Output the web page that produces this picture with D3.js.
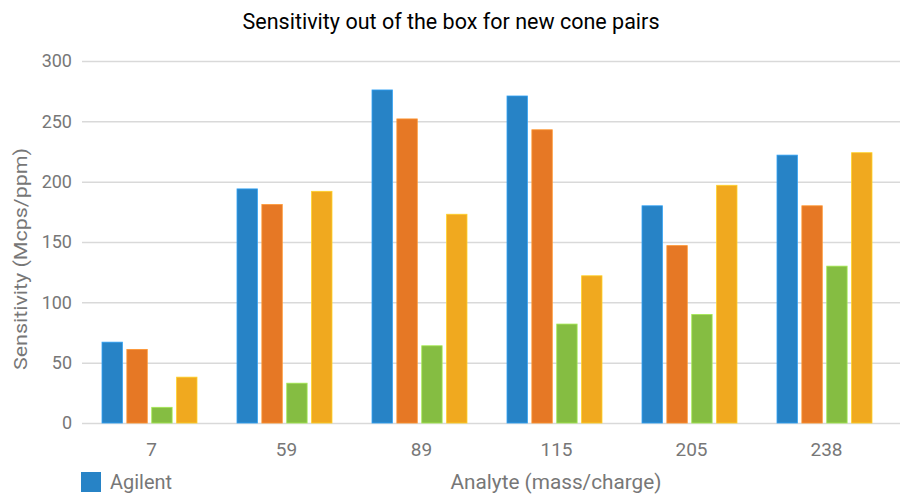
<!DOCTYPE html>
<html>
<head>
<meta charset="utf-8">
<script src="https://cdn.jsdelivr.net/npm/d3@7"></script>
<style>
  body { margin: 0; background: #fff; }
  svg { display: block; font-family: Roboto, "Open Sans", sans-serif; }
</style>
</head>
<body>
<svg id="chart" width="900" height="500"></svg>
<script>
const categories = ["7", "59", "89", "115", "205", "238"];
const seriesKeys = ["s1", "s2", "s3", "s4"];
const seriesColors = ["#2783C6", "#E67825", "#85BD42", "#F0A91F"];
const s1 = [67, 194, 276, 271, 180, 222];
const s2 = [61, 181, 252, 243, 147, 180];
const s3 = [13, 33, 64, 82, 90, 130];
const s4 = [38, 192, 173, 122, 197, 224];
const seriesValues = [s1, s2, s3, s4];
const yTicks = [0, 50, 100, 150, 200, 250, 300];
const legendItems = [{ label: "Agilent", color: "#2783C6" }];
const title = "Sensitivity out of the box for new cone pairs";
const xTitle = "Analyte (mass/charge)";
const yTitle = "Sensitivity (Mcps/ppm)";

const svg = d3.select("#chart");
const margin = { left: 82, right: 8, top: 61, bottom: 77 };
const W = 900, H = 500;

const x0 = d3.scaleBand().domain(categories).range([margin.left, W - margin.right]).paddingInner(0).paddingOuter(0);
const x1 = d3.scaleBand().domain(seriesKeys).range([20, x0.bandwidth() - 20]).paddingInner(0.18).paddingOuter(0);
const y = d3.scaleLinear().domain([0, 300]).range([H - margin.bottom, margin.top]);

// gridlines
const grid = svg.append("g")
  .attr("transform", `translate(${margin.left},0)`)
  .call(d3.axisLeft(y).tickValues(yTicks).tickSize(-(W - margin.left)).tickFormat(""));
grid.select(".domain").remove();
grid.selectAll(".tick line").attr("stroke", "#d9d9d9").attr("stroke-width", 1.5);

// y axis labels
const yAxis = svg.append("g")
  .attr("transform", `translate(${margin.left - 10},0)`)
  .call(d3.axisLeft(y).tickValues(yTicks).tickSize(0).tickPadding(0));
yAxis.select(".domain").remove();
yAxis.selectAll("text").attr("fill", "#777").style("font-size", "18px").style("font-family", "Roboto, sans-serif");

// bars
const groups = svg.append("g").selectAll("g")
  .data(categories)
  .join("g")
  .attr("transform", c => `translate(${x0(c)},0)`);

groups.selectAll("rect")
  .data((c, ci) => seriesKeys.map((k, si) => ({ key: k, value: seriesValues[si][ci], color: seriesColors[si] })))
  .join("rect")
  .attr("x", d => x1(d.key))
  .attr("width", x1.bandwidth())
  .attr("y", d => y(d.value))
  .attr("height", d => y(0) - y(d.value))
  .attr("fill", d => d.color)
  .attr("stroke", d => d3.color(d.color).brighter(0.6))
  .attr("stroke-width", 0.8);

// x axis labels
const xAxis = svg.append("g")
  .attr("transform", `translate(2,${y(0) + 19.5})`)
  .call(d3.axisBottom(x0).tickSize(0).tickPadding(0));
xAxis.select(".domain").remove();
xAxis.selectAll("text").attr("fill", "#777").style("font-size", "19px").style("font-family", "Roboto, sans-serif");

// title
svg.append("text")
  .attr("x", 451).attr("y", 29)
  .attr("text-anchor", "middle")
  .attr("fill", "#000")
  .attr("textLength", 417)
  .attr("lengthAdjust", "spacingAndGlyphs")
  .style("font-size", "22px")
  .text(title);

// y title
svg.append("text")
  .attr("transform", `translate(27,259) rotate(-90)`)
  .attr("text-anchor", "middle")
  .attr("fill", "#777")
  .attr("textLength", 222)
  .attr("lengthAdjust", "spacingAndGlyphs")
  .style("font-size", "19px")
  .text(yTitle);

// x title
svg.append("text")
  .attr("x", 556).attr("y", 489)
  .attr("text-anchor", "middle")
  .attr("fill", "#777")
  .attr("textLength", 211)
  .attr("lengthAdjust", "spacingAndGlyphs")
  .style("font-size", "20px")
  .text(xTitle);

// legend
const lg = svg.append("g").selectAll("g").data(legendItems).join("g")
  .attr("transform", (d, i) => `translate(${81 + i * 120},472)`);
lg.append("rect").attr("width", 20).attr("height", 20).attr("fill", d => d.color);
lg.append("text").attr("x", 29).attr("y", 17).attr("fill", "#777")
  .attr("textLength", 62).attr("lengthAdjust", "spacingAndGlyphs")
  .style("font-size", "20px").text(d => d.label);
</script>
</body>
</html>
